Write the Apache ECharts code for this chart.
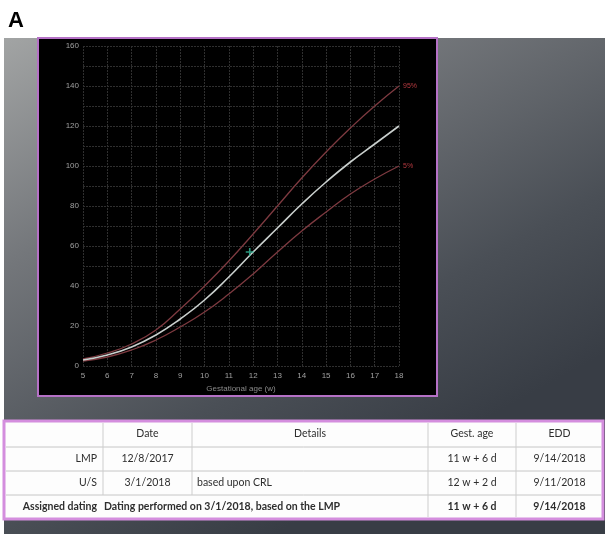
<!DOCTYPE html>
<html><head><meta charset="utf-8">
<script src="https://cdn.jsdelivr.net/npm/echarts@6/dist/echarts.min.js"></script>
<style>html,body{margin:0;padding:0;background:#fff}#c{width:605px;height:534px}</style>
</head><body><div id="c"></div>
<script>
// ---- data ----
const weeks = [5, 6, 7, 8, 9, 10, 11, 12, 13, 14, 15, 16, 17, 18];
const p50 = [3, 5.5, 9.5, 15.5, 23.5, 33, 44.5, 57, 69, 81, 92, 102, 111, 120];
const p95 = [3.5, 6.5, 11, 18, 28.5, 40, 52.5, 66, 80, 94, 107, 119, 130, 140];
const p5 = [2.5, 4.5, 8, 13, 19.5, 27, 36, 46, 57, 67.5, 77, 86, 93.5, 100];
const measurement = [[11.86, 57]];
const seriesNames = ['95%', '5%'];
const xAxisName = 'Gestational age (w)';
const tableHeader = ['', 'Date', 'Details', 'Gest. age', 'EDD'];
const tableRows = [
  ['LMP', '12/8/2017', '', '11 w + 6 d', '9/14/2018'],
  ['U/S', '3/1/2018', 'based upon CRL', '12 w + 2 d', '9/11/2018']
];
const assignedRow = ['Assigned dating', 'Dating performed on 3/1/2018, based on the LMP', '11 w + 6 d', '9/14/2018'];

const pair = (arr) => weeks.map((w, i) => [w, arr[i]]);

// ---- layout of the screenshot decoration ----
const colX = [4, 103, 192, 428, 516, 603];
const rowY = [421, 447, 471, 495, 519];
const tFont = 'Lato, "Liberation Sans", sans-serif';
const els = [];
// gray gradient background
els.push({type: 'rect', z: -20, silent: true, shape: {x: 4, y: 38, width: 601, height: 496},
  style: {fill: {type: 'linear', x: 0, y: 0, x2: 0.45, y2: 1, colorStops: [
    {offset: 0, color: '#a2a4a4'}, {offset: 0.35, color: '#74777b'}, {offset: 0.75, color: '#4a4f56'}, {offset: 1, color: '#383d45'}]}}});
// black chart panel
els.push({type: 'rect', z: -10, silent: true, shape: {x: 38, y: 38, width: 399, height: 358},
  style: {fill: '#000', stroke: '#b571c6', lineWidth: 2}});
// table
els.push({type: 'rect', z: -10, silent: true, shape: {x: colX[0], y: rowY[0], width: colX[5] - colX[0], height: rowY[4] - rowY[0]},
  style: {fill: '#fdfdfd', stroke: '#d48ede', lineWidth: 3}});
for (let r = 1; r < 4; r++) {
  els.push({type: 'line', z: -9, silent: true, shape: {x1: colX[0] + 2, y1: rowY[r], x2: colX[5] - 2, y2: rowY[r]},
    style: {stroke: '#c6c6c6', lineWidth: 1}});
}
for (let c = 1; c < 5; c++) {
  const yEnd = (c <= 2) ? rowY[3] : rowY[4] - 2;
  els.push({type: 'line', z: -9, silent: true, shape: {x1: colX[c], y1: rowY[0] + 2, x2: colX[c], y2: yEnd},
    style: {stroke: '#cdcdcd', lineWidth: 1}});
}
function txt(s, x, y, align, bold) {
  els.push({type: 'text', z: 10, silent: true, x: x, y: y,
    style: {text: s, fill: '#2e2e2e', font: (bold ? 'bold ' : '') + '10.5px ' + tFont, align: align, verticalAlign: 'middle'}});
}
const mid = (r) => (rowY[r] + rowY[r + 1]) / 2;
const cen = (c) => (colX[c] + colX[c + 1]) / 2;
// header
tableHeader.forEach((h, c) => { if (h) txt(h, cen(c), mid(0), 'center', false); });
tableRows.forEach((row, i) => {
  const r = i + 1;
  txt(row[0], 97, mid(r), 'right', false);
  txt(row[1], cen(1), mid(r), 'center', false);
  if (row[2]) txt(row[2], 197, mid(r), 'left', false);
  txt(row[3], cen(3), mid(r), 'center', false);
  txt(row[4], cen(4), mid(r), 'center', false);
});
txt(assignedRow[0], 97, mid(3), 'right', true);
txt(assignedRow[1], 104, mid(3), 'left', true);
txt(assignedRow[2], cen(3), mid(3), 'center', true);
txt(assignedRow[3], cen(4), mid(3), 'center', true);
// panel label
els.push({type: 'text', z: 10, silent: true, x: 8, y: 21,
  style: {text: 'A', fill: '#000', font: 'bold 22px "Liberation Sans", Arial, sans-serif', verticalAlign: 'middle'}});

const gridLine = {show: true, lineStyle: {color: '#2f2f2f', width: 1, type: [2, 1]}};
const axisLbl = {color: '#a0a0a0', fontSize: 8, fontFamily: '"Liberation Sans", sans-serif'};

const chart = echarts.init(document.getElementById('c'));
chart.setOption({
  backgroundColor: '#ffffff',
  animation: false,
  graphic: {elements: els},
  grid: {left: 83, top: 46, width: 316, height: 320, outerBoundsMode: 'none'},
  xAxis: {
    type: 'value', min: 5, max: 18, interval: 1,
    name: xAxisName, nameLocation: 'middle', nameGap: 19,
    nameTextStyle: {color: '#8a8a8a', fontSize: 8, fontFamily: '"Liberation Sans", sans-serif'},
    axisLine: {show: false}, axisTick: {show: false},
    axisLabel: Object.assign({margin: 6}, axisLbl),
    splitLine: gridLine
  },
  yAxis: {
    type: 'value', min: 0, max: 160, interval: 10,
    axisLine: {show: false}, axisTick: {show: false},
    axisLabel: Object.assign({margin: 4, formatter: (v) => (v % 20 === 0 ? String(v) : '')}, axisLbl),
    splitLine: gridLine
  },
  series: [
    {name: seriesNames[0], type: 'line', smooth: true, showSymbol: false, data: pair(p95),
      lineStyle: {color: '#7e3a40', width: 1.3},
      endLabel: {show: true, formatter: seriesNames[0], color: '#b5393f', fontSize: 7, distance: 4}},
    {name: seriesNames[1], type: 'line', smooth: true, showSymbol: false, data: pair(p5),
      lineStyle: {color: '#7e3a40', width: 1.3},
      endLabel: {show: true, formatter: seriesNames[1], color: '#b5393f', fontSize: 7, distance: 4}},
    {name: '50%', type: 'line', smooth: true, showSymbol: false, data: pair(p50),
      lineStyle: {color: '#c9cfcd', width: 1.6}},
    {name: 'measurement', type: 'scatter', data: measurement, symbol: 'path://M4,0H6V4H10V6H6V10H4V6H0V4H4Z',
      symbolSize: 8, itemStyle: {color: '#34bd9c'}, z: 5}
  ]
});
</script></body></html>
